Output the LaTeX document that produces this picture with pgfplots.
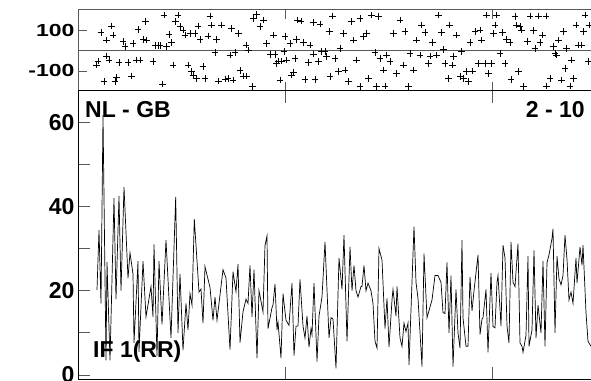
\documentclass[border=0pt]{standalone}
\usepackage{pgfplots}
\pgfplotsset{compat=1.18}
\usepackage{fontspec}
\setmainfont{Liberation Sans}
\newcommand\lbl{\fontsize{23}{26}\selectfont\bfseries}
\begin{document}
\begin{tikzpicture}[x=1pt,y=1pt]
% ---------- top panel: phase ----------
\begin{axis}[
  at={(78pt,289pt)}, anchor=south west,
  scale only axis, width=522pt, height=81pt,
  xmin=78, xmax=600, ymin=-198, ymax=198,
  xtick={285,492}, xticklabels={}, xtick pos=both,
  ytick={-100,100}, yticklabels={-100,100}, ytick pos=left,
  tick align=inside, major tick length=9pt,
  tick style={black!65, line width=0.8pt},
  axis line style={black!65, line width=1pt},
  yticklabel style={font=\lbl, yscale=0.76},
  extra y ticks={0}, extra y tick labels={},
  extra y tick style={grid=major, major grid style={black!65, line width=1pt}, major tick length=0pt},
]
\addplot[only marks, mark=+, mark size=3.3pt, black, mark options={line width=0.6pt}] table {
x y
96.7 -71
98 -51
101 89
104 -152
106.7 51
106.7 -27
109 -46
111.7 120
113 76
115 -152
116.7 -133
119 -59
123 43
125 19
128 -59
131.7 -124
133 35
136.7 -46
138 103
140 -46
143 55
145.7 141
146.7 51
153 -55
155 23
158 23
160 23
162.7 -163
164 173
166.7 19
169 79
171.7 38
173 -71
175.7 141
178 173
180 116
183 100
185 76
188 -71
190 84
191.7 -103
193 -120
195 84
196.7 -136
198 120
200 55
203 -79
205 -136
208 71
210 168
211.7 124
215 -11
216.7 55
218.3 -149
221.7 124
225 -139
228 -136
230 -22
231.7 108
233 -144
235 -11
238.3 84
240 -98
243 -124
246 27
246.7 -124
248.3 2
252.3 -176
253.3 157
256.7 176
260 116
263.3 149
266.7 35
270 -19
273.3 76
275 -19
276.7 -63
278.3 -51
280 -144
281.7 -51
284 -6
285 67
286.7 -46
290 35
291.7 -120
293.3 -108
295 -38
296.7 55
297.7 149
301 145
303.3 38
305 -141
308.3 -59
310 27
313.3 136
313.3 -17
315 -141
318.3 -55
320 129
321.7 -6
325 -6
326.7 -30
329.3 92
330 -128
332.7 168
335 -38
338.3 -103
340 11
343.3 84
345 -95
348.3 -152
351.7 141
353.3 51
356.7 -46
360 -176
360 157
363.3 67
366.7 84
368.3 -136
371.7 173
375 -11
376.7 -176
378.3 165
380 -38
383.3 -95
385 -173
386.7 -22
390 -55
393.3 84
396.7 -111
400 149
403.3 -71
405 92
408.3 -176
410 -14
413.3 -95
416.7 51
420 -22
421.7 124
425 87
428.3 -63
430 -27
432.7 38
436.7 -22
438.3 173
441.7 87
443.3 6
445 -63
448.3 -136
449.3 124
452.7 -71
453.3 -30
456.7 76
460 -128
461.7 -6
463.3 -136
466.7 -103
468.3 -152
470 38
472.7 -100
475 92
478.3 -63
480 100
481.7 51
485 -63
486.7 173
488.3 -111
491.7 -63
493.3 84
495 124
496.7 173
500 -14
502.7 87
505 -63
506.7 55
510 38
511 -141
515 165
516.7 124
518.3 -103
520 116
521.7 100
523.3 -176
527.3 43
530 168
533.3 97
535 11
538.3 168
540 38
542.7 76
546 168
546.7 -173
550 -136
553.3 19
555 -14
556.7 -22
558.3 51
561.7 -144
563.3 92
565 -87
566.7 11
570 -173
571.7 -46
573.3 -136
576 124
578.3 27
581.7 27
583.3 92
585 173
588.3 -55
589 124
};
\end{axis}
% ---------- bottom panel: amplitude ----------
\begin{axis}[
  at={(78pt,1pt)}, anchor=south west,
  scale only axis, width=522pt, height=288pt,
  xmin=78, xmax=600, ymin=-0.95, ymax=67.4,
  xtick={285,492}, xticklabels={}, xtick pos=both,
  ytick={0,20,40,60}, yticklabels={0,20,40,60}, ytick pos=left,
  minor ytick={10,30,50},
  tick align=inside, major tick length=12pt, minor tick length=12pt,
  tick style={black!65, line width=0.8pt},
  axis line style={black, line width=1pt},
  yticklabel style={font=\lbl},
]
\addplot[black, line width=0.7pt] table {
x y
97 20.2
99 34.4
101 17
103 61.7
106 3.5
107 26.8
110 3.5
114 42
116 18
119 42.5
121 20
124 44.6
128 23
130 29
133 24
134 7.6
138 27
139 5.5
143 27
146 13.8
151 21
153 13.8
154 31
157 4.5
159 27
162 12
166 32
171 8.8
175.7 42.3
178 10
180 24
183 5.9
186 17
188 10.7
190 19.3
192 16.6
194.3 37
199 19.7
201 20.4
203 12.3
205 25.7
210 20.8
213 13
215 18.5
217 13
220 19
223 25
226 23
230 6
233 24.5
236 19.8
238 26.3
240 7.7
243 15
246 18
248 17
250 26
252 13.8
254 25
257 4
259 20
263 15
265 30.8
267 33
268 11
272 16
273 16.6
275 21.6
277 10.7
278 12.6
281 4
283 19.3
286 13
289 11.8
292 21.8
294 4.6
296 11.6
298 11.6
300 22.7
303 11.6
305 8.8
307 14
309 6.6
311 11
312 9.6
314 21.8
317 3.2
319 14
322 18.5
325 31.6
329 8.8
331 13.6
333 13.3
336 1.6
339 27.8
342 20.3
344 33.2
347 8
350 30.4
352 20
354 26
356 20
358 18.5
361 21
362 21
364 26
366 20
368 21.8
371 20
373 17
375 8
377 6.4
379 30
382 27.3
385 11
387 18.2
389 6.6
392 17.8
393 20.3
396 14
397 21
400 8.8
402 6.8
404 12.3
406 10.3
408 12.3
409 2.4
414 35.2
416 22
418 18.2
422 2
424 28.8
427 13.6
432 17.8
435 23.6
438 23.6
441 22
443 14.8
445 14.6
447 26.7
449 10
451 23.6
453 2
456 20.3
458 10
460 6.4
462 32
463 13.6
466 6.8
468 6.8
470 23.3
472 15.2
474 20
478 28.5
480 9.6
482 13.3
483 13.6
486 20.3
488 5.4
491 24.2
493 11.5
495 11.2
497 22
498 23.6
501 11.6
503 30.8
505 27.8
507 11.6
509 7.6
511 31.6
513 22
515 21
518 31.2
520 7.6
522 6.8
523 5.4
526 9.4
528 28.2
529 6.8
532 10.7
534 29.6
536 8.8
538 16.6
541 10
543 27
545 6.8
547 26.7
549 28.5
552 32.4
553 34.7
555 10
557 28.2
559 22.8
561 21.4
563 23.6
565 33.2
567 27.4
569 17.8
571 19.7
573 17
576 27.8
577 21.8
580 30.4
582 26
583 30.8
586 14.8
588 8
591 6.8
};
\end{axis}
\node[anchor=base west, inner sep=0pt, font=\lbl] at (85,262) {NL - GB};
\node[anchor=base east, inner sep=0pt, font=\lbl] at (585,262) {2 - 10};
\node[anchor=base west, inner sep=0pt, font=\lbl] at (93,23) {IF 1(RR)};
\pgfresetboundingbox
\path[use as bounding box] (0,0) rectangle (591,380);
\end{tikzpicture}
\end{document}
